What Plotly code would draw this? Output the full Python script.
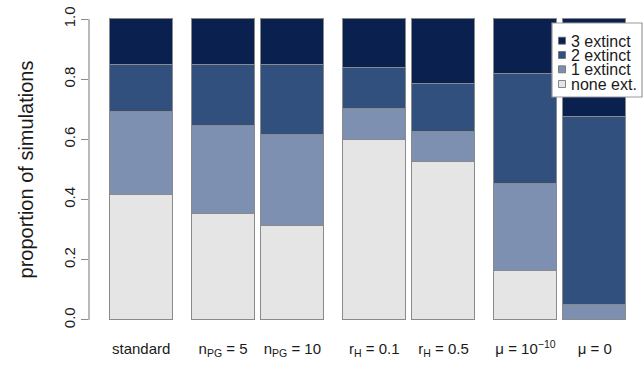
import plotly.graph_objects as go

# Scenarios shown along the x axis
categories = [
    "standard",
    "n<sub>PG</sub> = 5",
    "n<sub>PG</sub> = 10",
    "r<sub>H</sub> = 0.1",
    "r<sub>H</sub> = 0.5",
    "μ = 10<sup>−10</sup>",
    "μ = 0",
]

# Proportion of simulations per outcome (stacked bottom to top)
none_ext = [0.415, 0.351, 0.312, 0.597, 0.524, 0.163, 0.000]
one_ext = [0.275, 0.293, 0.302, 0.105, 0.101, 0.290, 0.049]
two_ext = [0.158, 0.204, 0.234, 0.134, 0.160, 0.363, 0.626]
three_ext = [0.152, 0.152, 0.152, 0.164, 0.215, 0.184, 0.325]

series_names = ["none ext.", "1 extinct", "2 extinct", "3 extinct"]
series_values = [none_ext, one_ext, two_ext, three_ext]
series_colors = ["#e5e5e5", "#7d90b1", "#32507e", "#0a2150"]

y_ticks = [0.0, 0.2, 0.4, 0.6, 0.8, 1.0]

# barplot-style spacing: gap before each bar, in bar widths
space = [0.3, 0.3, 0.1, 0.3, 0.1, 0.3, 0.1]
centers = []
left = 0.0
for s in space:
    left += s
    centers.append(left + 0.5)
    left += 1.0

W, H = 643, 369
ML, MR, MT, MB = 89, 0, 7, 37
PX_PER_UNIT = 63
plot_w = W - ML - MR
plot_h = H - MT - MB
x0 = 0.3 - 0.04 * 8.2
xr = [x0, x0 + plot_w / PX_PER_UNIT]
yr = [-0.04, 1.04]

FONT = "Liberation Sans, Arial, Helvetica, sans-serif"
TXT = "#1a1a1a"

fig = go.Figure()
for name, vals, col in zip(series_names, series_values, series_colors):
    fig.add_trace(go.Bar(
        x=centers, y=vals, name=name, width=1.0,
        marker=dict(color=col, line=dict(color="#8a8a8a", width=1.2)),
        showlegend=False,
    ))


def px_x(px):
    return (px - ML) / plot_w


def px_y(py):
    return (H - MB - py) / plot_h


shapes = [
    # y axis line spanning 0..1 only
    dict(type="line", xref="paper", yref="y", x0=0, x1=0, y0=0, y1=1,
         line=dict(color="#8c8c8c", width=1.2)),
    # legend box
    dict(type="rect", xref="paper", yref="paper",
         x0=px_x(552), x1=px_x(642), y0=px_y(97), y1=px_y(23),
         fillcolor="white", line=dict(color="#9a9a9a", width=1.2), layer="above"),
]
annotations = []
row_y = [40.7, 55.0, 69.3, 84.0]
legend_order = list(zip(series_names, series_colors))[::-1]
for (name, col), ry in zip(legend_order, row_y):
    shapes.append(dict(type="rect", xref="paper", yref="paper",
                       x0=px_x(558.5), x1=px_x(565.5),
                       y0=px_y(ry + 3.5), y1=px_y(ry - 3.5),
                       fillcolor=col, line=dict(color="#6a6a6a", width=0.8),
                       layer="above"))
    annotations.append(dict(xref="paper", yref="paper", x=px_x(569), y=px_y(ry),
                            text=name, showarrow=False, xanchor="left",
                            yanchor="middle", height=14, valign="middle",
                            font=dict(family=FONT, size=16, color=TXT)))

fig.update_layout(
    width=W, height=H,
    margin=dict(l=ML, r=MR, t=MT, b=MB),
    paper_bgcolor="white", plot_bgcolor="white",
    barmode="stack", bargap=0,
    font=dict(family=FONT, size=15, color=TXT),
    xaxis=dict(range=xr, tickvals=centers, ticktext=categories,
               showgrid=False, zeroline=False, showline=False, ticks="",
               tickfont=dict(size=15), ticklabelstandoff=6),
    yaxis=dict(range=yr, tickvals=y_ticks, ticktext=[f"{v:.1f}" for v in y_ticks],
               tickangle=-90, ticks="outside", ticklen=7, tickcolor="#8c8c8c",
               tickwidth=1.2, showgrid=False, zeroline=False, showline=False,
               tickfont=dict(size=15),
               title=dict(text="proportion of simulations", font=dict(size=20),
                          standoff=22)),
    shapes=shapes,
    annotations=annotations,
)

fig.write_html("out.html")
